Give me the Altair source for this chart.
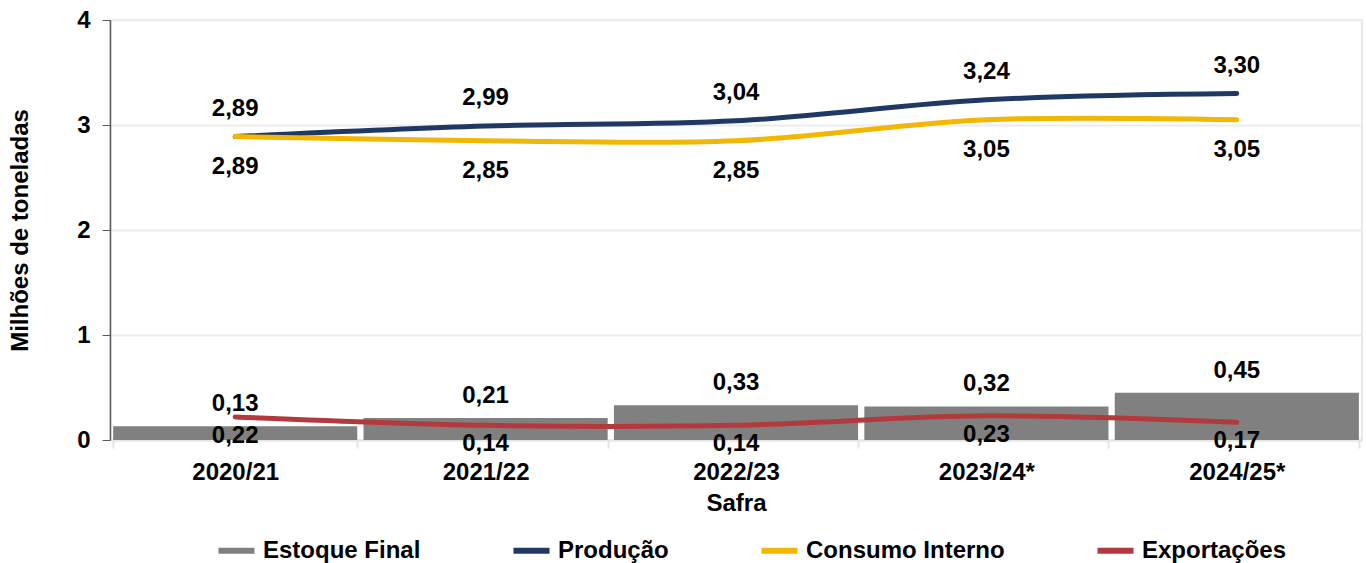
import altair as alt
import pandas as pd

categorias = ["2020/21", "2021/22", "2022/23", "2023/24*", "2024/25*"]
estoque_final = [0.13, 0.21, 0.33, 0.32, 0.45]
producao = [2.89, 2.99, 3.04, 3.24, 3.30]
consumo_interno = [2.89, 2.85, 2.85, 3.05, 3.05]
exportacoes = [0.22, 0.14, 0.14, 0.23, 0.17]

series_nomes = ["Estoque Final", "Produção", "Consumo Interno", "Exportações"]
series_cores = ["#808080", "#203864", "#F2B705", "#B23A3E"]

def fmt(v):
    return f"{v:.2f}".replace(".", ",")

df_bar = pd.DataFrame({
    "Safra": categorias,
    "valor": estoque_final,
    "serie": "Estoque Final",
    "rotulo": [fmt(v) for v in estoque_final],
})

rows = []
for nome, vals in [("Produção", producao), ("Consumo Interno", consumo_interno), ("Exportações", exportacoes)]:
    for c, v in zip(categorias, vals):
        rows.append({"Safra": c, "valor": v, "serie": nome, "rotulo": fmt(v)})
df_lin = pd.DataFrame(rows)

FONT = "Liberation Sans"
FS = 24

x_enc = alt.X(
    "Safra:N",
    sort=categorias,
    title="Safra",
    scale=alt.Scale(paddingInner=0.025, paddingOuter=0.0125),
    axis=alt.Axis(
        labelAngle=0, labelFont=FONT, labelFontSize=FS, labelFontWeight="bold",
        labelColor="#000000", labelPadding=12, tickBand="extent", tickSize=8,
        tickColor="#E3E3E3", tickWidth=2, domainColor="#E6E6E6", domainWidth=2,
        titleFont=FONT, titleFontSize=FS, titleFontWeight="bold", titleColor="#000000",
        titlePadding=7,
    ),
)
y_enc = alt.Y(
    "valor:Q",
    title="Milhões de toneladas",
    scale=alt.Scale(domain=[0, 4], nice=False),
    axis=alt.Axis(
        values=[0, 1, 2, 3, 4], format="d", labelFont=FONT, labelFontSize=FS, labelFontWeight="bold",
        labelColor="#000000", labelPadding=12, tickSize=8, tickColor="#595959",
        domainColor="#595959", domainWidth=1.5, gridColor="#EBEBEB", gridWidth=2,
        titleFont=FONT, titleFontSize=FS, titleFontWeight="bold", titleColor="#000000",
        titlePadding=44,
    ),
)
color_enc = alt.Color(
    "serie:N",
    scale=alt.Scale(domain=series_nomes, range=series_cores),
    legend=alt.Legend(
        title=None, orient="none", direction="horizontal", legendX=105, legendY=509,
        symbolType="stroke", symbolStrokeWidth=6, symbolSize=1300,
        labelFont=FONT, labelFontSize=FS, labelFontWeight="bold", labelColor="#000000",
        labelOffset=5, columnPadding=80, labelLimit=400,
    ),
)

bars = alt.Chart(df_bar).mark_bar().encode(x=x_enc, y=y_enc, color=color_enc)
bar_text = alt.Chart(df_bar).mark_text(
    dy=-22, font=FONT, fontSize=FS, fontWeight="bold", color="#000000", baseline="middle"
).encode(x=alt.X("Safra:N", sort=categorias), y="valor:Q", text="rotulo:N")

lines = alt.Chart(df_lin).mark_line(
    interpolate="cardinal", strokeWidth=5, strokeCap="round"
).encode(
    x=alt.X("Safra:N", sort=categorias), y="valor:Q",
    color=alt.Color("serie:N", scale=alt.Scale(domain=series_nomes, range=series_cores)),
)

def lbl(nome, dy):
    return alt.Chart(df_lin).transform_filter(alt.datum.serie == nome).mark_text(
        dy=dy, font=FONT, fontSize=FS, fontWeight="bold", color="#000000", baseline="middle"
    ).encode(x=alt.X("Safra:N", sort=categorias), y="valor:Q", text="rotulo:N")

chart = alt.layer(
    bars, lines, bar_text,
    lbl("Produção", -28), lbl("Consumo Interno", 30), lbl("Exportações", 19),
).properties(
    width=1252, height=420,
    autosize=alt.AutoSizeParams(type="none"),
    padding={"left": 110, "top": 20, "right": 4, "bottom": 123},
).configure_view(stroke="#E8E8E8", strokeWidth=2)

chart.save("out.html", embed_options={"renderer": "svg", "actions": False})
